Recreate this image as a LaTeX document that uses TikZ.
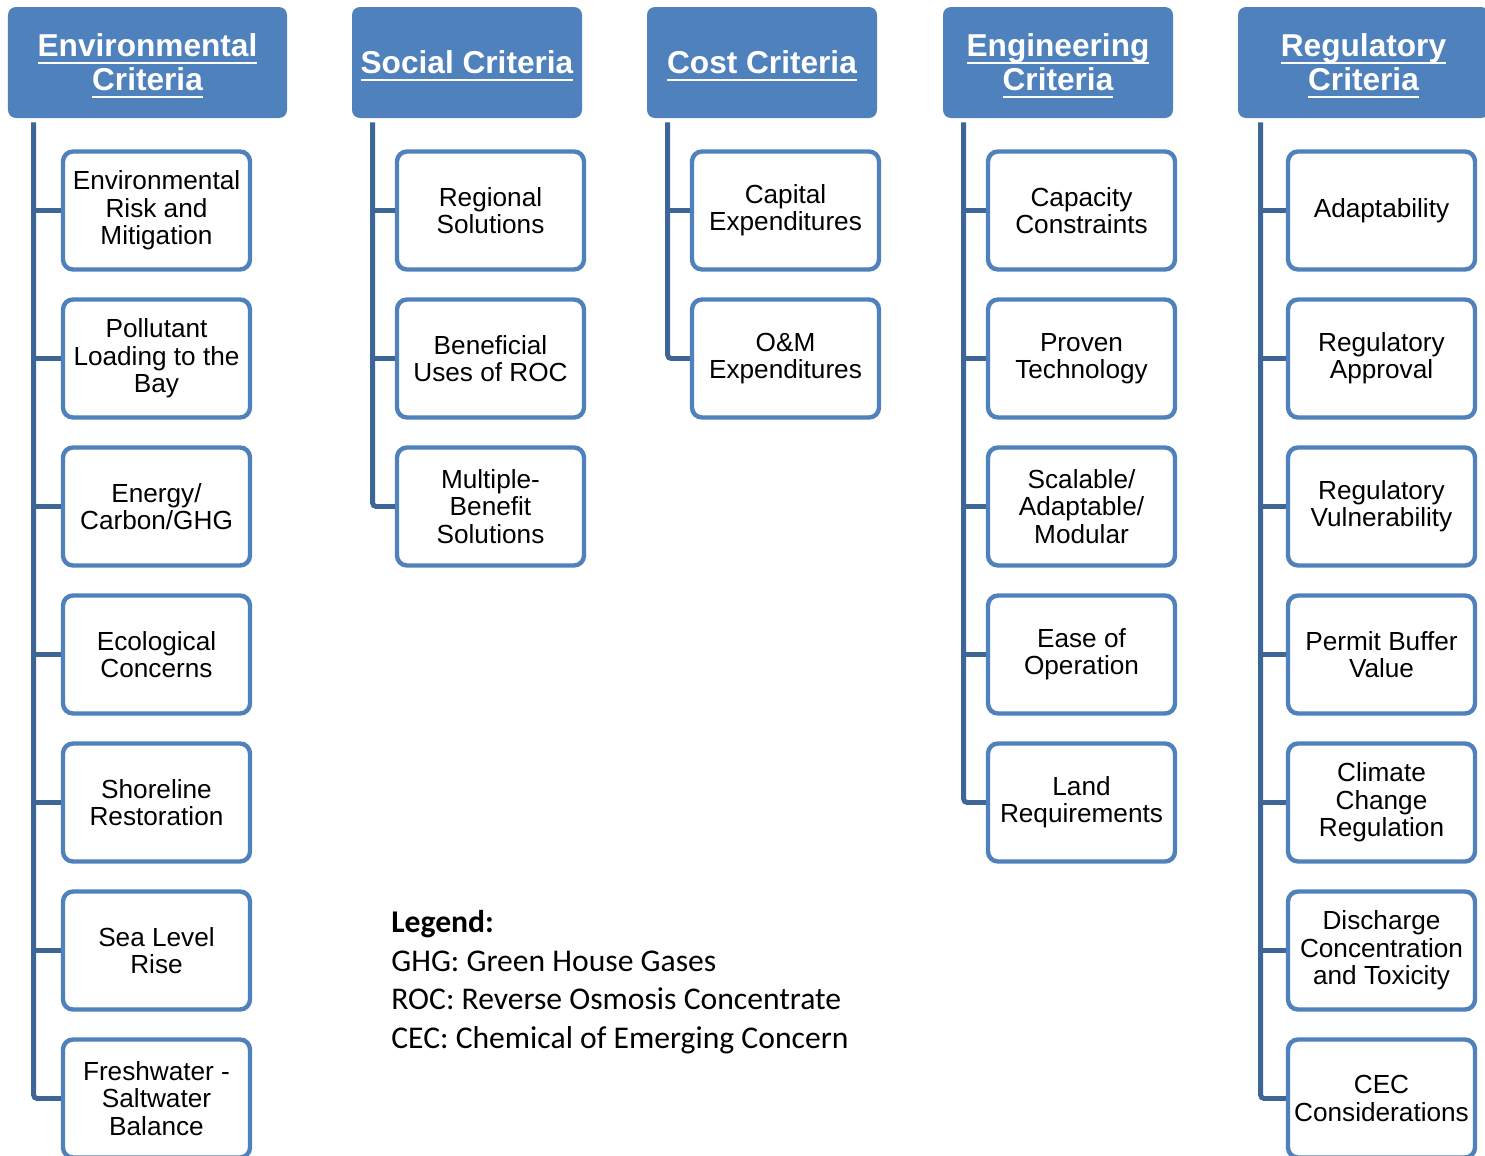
\documentclass[tikz,border=0pt]{standalone}
\usepackage{fontspec}
\setmainfont{Liberation Sans}
\newfontfamily\legendfont{Carlito}
\usepackage{tikz}
\usetikzlibrary{positioning}
\usepackage{xcolor}
\definecolor{hdrblue}{HTML}{4F81BD}
\definecolor{trunkblue}{HTML}{3D6596}
\newcommand{\hdrul}[1]{\setbox0=\hbox{#1}\rlap{\smash{\vrule height -2.9pt depth 4.0pt width \wd0}}\box0}

\begin{document}
\begin{tikzpicture}[node distance=2.96cm, header/.style = {fill=hdrblue, rounded corners=0.16cm, minimum width=4.6cm, minimum height=2.22cm,
                 align=center, text=white, font={\fontsize{18}{19.3}\selectfont\bfseries}}, block/.style = {draw=hdrblue, line width=2.5pt, fill=white, rounded corners=0.2cm,
                 minimum width=3.74cm, minimum height=2.36cm, inner sep=1pt, align=center, font={\fontsize{14.9}{15.6}\selectfont}}, trunk/.style = {draw=trunkblue, line width=2.8pt, rounded corners=2pt}]

\useasboundingbox (0,0) rectangle (29.7,-23.12);
% Headers
\node (env) [header, minimum width=5.58cm] at (2.95,-1.25) {\hdrul{Environmental}\\ \hdrul{Criteria}};
\node (social) [header] at (9.34,-1.25) {\hdrul{Social Criteria}};
\node (cost) [header] at (15.24,-1.25) {\hdrul{Cost Criteria}};
\node (eng) [header] at (21.16,-1.25) {\hdrul{Engineering}\\ \hdrul{Criteria}};
\node (reg) [header, minimum width=5.02cm] at (27.27,-1.25) {\hdrul{Regulatory}\\ \hdrul{Criteria}};

% Environmental
\node (risk) [block, below of=env, xshift=0.18cm] {Environmental\\ Risk and\\ Mitigation};
\node (pollutant) [block, below of=risk] {Pollutant\\ Loading to the\\ Bay};
\node (energy) [block, below of=pollutant] {Energy/\\ Carbon/GHG};
\node (ecology) [block, below of=energy] {Ecological\\ Concerns};
\node (shoreline) [block, below of=ecology] {Shoreline\\ Restoration};
\node (sealevel) [block, below of=shoreline] {Sea Level\\ Rise};
\node (freshwater) [block, below of=sealevel] {Freshwater -\\ Saltwater\\ Balance};

% Social
\node (regional) [block, below of=social, xshift=0.47cm] {Regional\\ Solutions};
\node (beneficial) [block, below of=regional] {Beneficial\\ Uses of ROC};
\node (multibenefit) [block, below of=beneficial] {Multiple-\\ Benefit\\ Solutions};

% Cost
\node (capex) [block, below of=cost, xshift=0.47cm] {Capital\\ Expenditures};
\node (omex) [block, below of=capex] {O\&M\\ Expenditures};

% Engineering
\node (capacity) [block, below of=eng, xshift=0.47cm] {Capacity\\ Constraints};
\node (proven) [block, below of=capacity] {Proven\\ Technology};
\node (scalable) [block, below of=proven] {Scalable/\\ Adaptable/\\ Modular};
\node (easeop) [block, below of=scalable] {Ease of\\ Operation};
\node (land) [block, below of=easeop] {Land\\ Requirements};

% Regulatory
\node (adapt) [block, below of=reg, xshift=0.36cm] {Adaptability};
\node (approval) [block, below of=adapt] {Regulatory\\ Approval};
\node (vulner) [block, below of=approval] {Regulatory\\ Vulnerability};
\node (buffer) [block, below of=vulner] {Permit Buffer\\ Value};
\node (climate) [block, below of=buffer] {Climate\\ Change\\ Regulation};
\node (discharge) [block, below of=climate] {Discharge\\ Concentration\\ and Toxicity};
\node (cec) [block, below of=discharge] {CEC\\ Considerations};

% Legend
\node (legend) [anchor=north west, inner sep=0pt, align=left, font={\legendfont\fontsize{18}{21.9}\selectfont}] at (7.82,-18.2)
  {\textbf{Legend:}\\ GHG: Green House Gases\\ ROC: Reverse Osmosis Concentrate\\ CEC: Chemical of Emerging Concern};

% Lines
\coordinate (envtop) at ([xshift=0.52cm, yshift=-0.08cm]env.south west);
\coordinate (socialtop) at ([xshift=0.42cm, yshift=-0.08cm]social.south west);
\coordinate (costtop) at ([xshift=0.42cm, yshift=-0.08cm]cost.south west);
\coordinate (engtop) at ([xshift=0.42cm, yshift=-0.08cm]eng.south west);
\coordinate (regtop) at ([xshift=0.46cm, yshift=-0.08cm]reg.south west);

\draw [trunk] (envtop) |- (freshwater.west);
\draw [trunk] (risk.west -| envtop) -- (risk.west);
\draw [trunk] (pollutant.west -| envtop) -- (pollutant.west);
\draw [trunk] (energy.west -| envtop) -- (energy.west);
\draw [trunk] (ecology.west -| envtop) -- (ecology.west);
\draw [trunk] (shoreline.west -| envtop) -- (shoreline.west);
\draw [trunk] (sealevel.west -| envtop) -- (sealevel.west);

\draw [trunk] (socialtop) |- (multibenefit.west);
\draw [trunk] (regional.west -| socialtop) -- (regional.west);
\draw [trunk] (beneficial.west -| socialtop) -- (beneficial.west);

\draw [trunk] (costtop) |- (omex.west);
\draw [trunk] (capex.west -| costtop) -- (capex.west);

\draw [trunk] (engtop) |- (land.west);
\draw [trunk] (capacity.west -| engtop) -- (capacity.west);
\draw [trunk] (proven.west -| engtop) -- (proven.west);
\draw [trunk] (scalable.west -| engtop) -- (scalable.west);
\draw [trunk] (easeop.west -| engtop) -- (easeop.west);

\draw [trunk] (regtop) |- (cec.west);
\draw [trunk] (adapt.west -| regtop) -- (adapt.west);
\draw [trunk] (approval.west -| regtop) -- (approval.west);
\draw [trunk] (vulner.west -| regtop) -- (vulner.west);
\draw [trunk] (buffer.west -| regtop) -- (buffer.west);
\draw [trunk] (climate.west -| regtop) -- (climate.west);
\draw [trunk] (discharge.west -| regtop) -- (discharge.west);
\end{tikzpicture}
\end{document}
